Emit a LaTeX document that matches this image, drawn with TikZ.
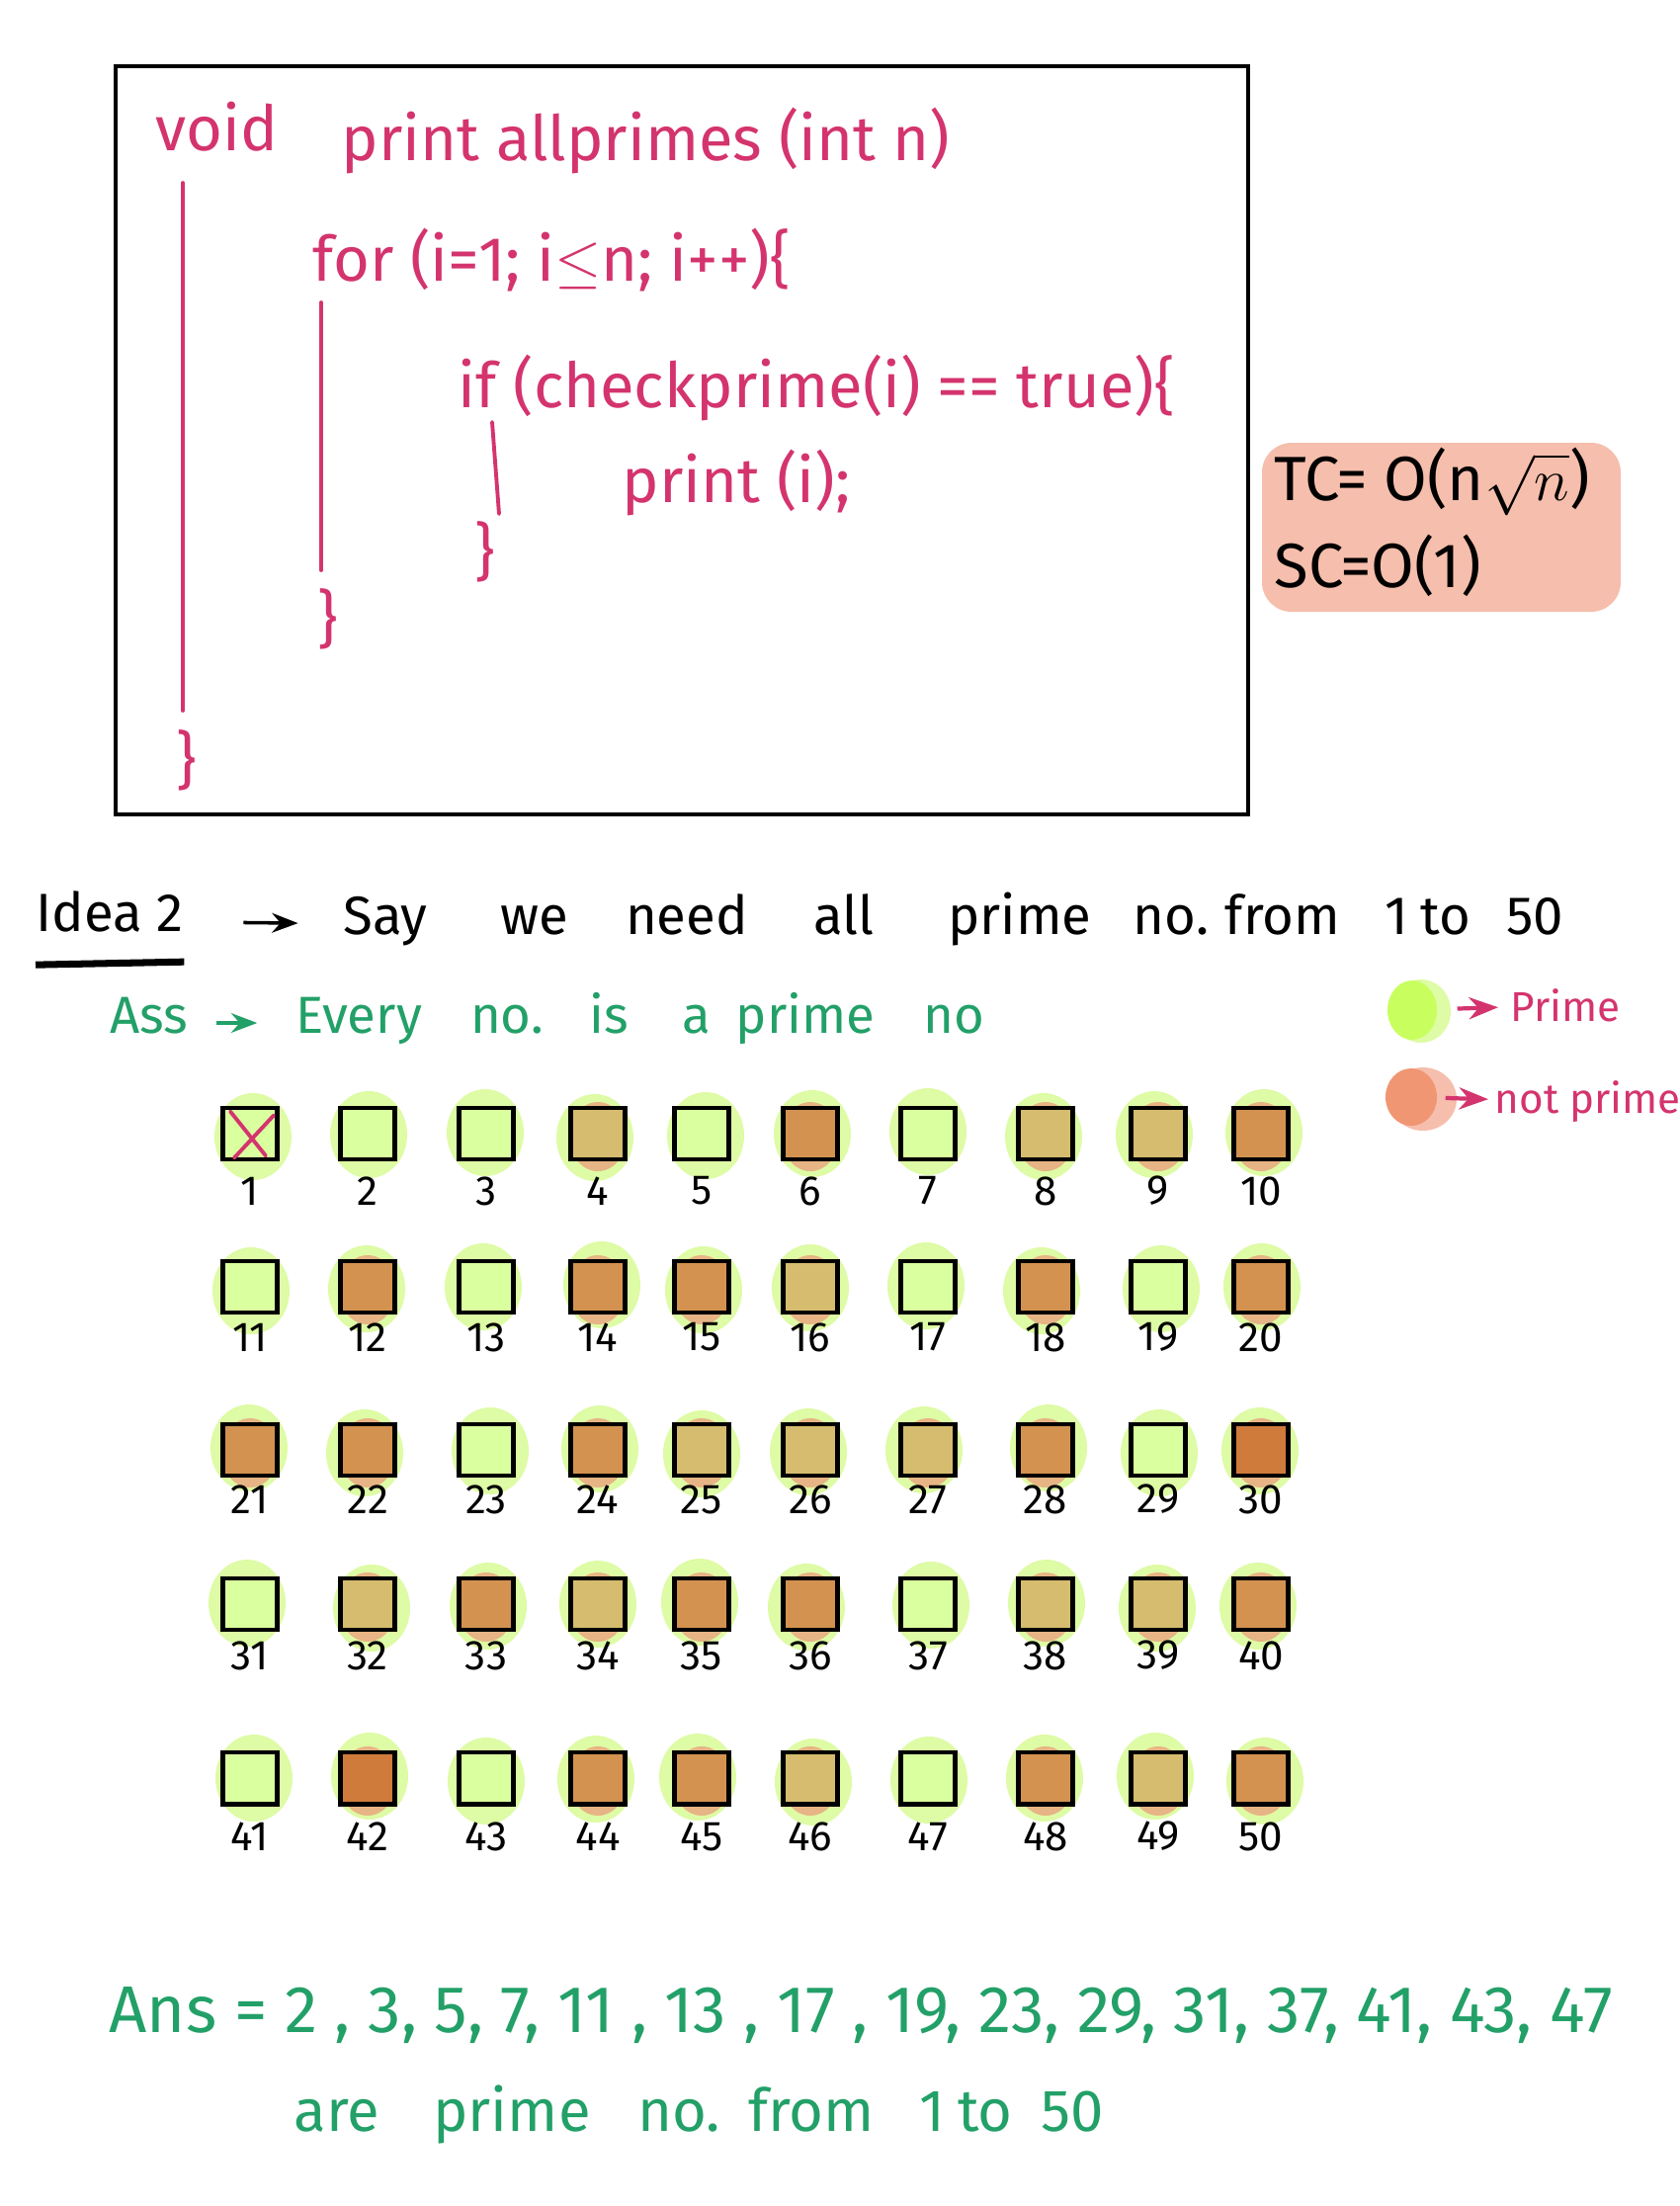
\documentclass[tikz,border=0pt]{standalone}
\usepackage{fontspec}
\setmainfont{Fira Sans}
\usetikzlibrary{calc,shapes.geometric,arrows.meta}

\definecolor{codepink}{RGB}{212,52,110}
\definecolor{assgreen}{RGB}{34,160,104}
\definecolor{tcfill}{RGB}{246,190,172}
\definecolor{haloG}{RGB}{222,251,165}
\definecolor{fillP}{RGB}{218,255,158}
\definecolor{fillT}{RGB}{213,188,110}
\definecolor{fillO}{RGB}{211,146,80}
\definecolor{fillD}{RGB}{207,123,60}
\definecolor{rimcol}{RGB}{236,150,120}
\definecolor{primeblob}{RGB}{200,255,95}
\definecolor{notprimeblob}{RGB}{240,150,115}

\tikzset{
  code/.style={text=codepink, inner sep=0pt, font=\fontsize{18}{21}\selectfont},
  codeline/.style={draw=codepink, line width=1.1pt, line cap=round},
  idea/.style={inner sep=0pt, text height=1.6ex, text depth=0.5ex, font=\fontsize{15.5}{18}\selectfont},
  ass/.style={text=assgreen, inner sep=0pt, text height=1.6ex, text depth=0.5ex, font=\fontsize{15}{18}\selectfont},
  ans/.style={text=assgreen, inner sep=0pt, text height=1.6ex, text depth=0.5ex, font=\fontsize{19}{22}\selectfont},
  cell/.style={draw, line width=1.4pt, minimum width=0.55cm, minimum height=0.52cm, inner sep=0pt},
  num/.style={inner sep=0pt, font=\fontsize{12}{14}\selectfont},
  legend/.style={text=codepink, inner sep=0pt, anchor=west, font=\fontsize{12}{14}\selectfont},
}

\begin{document}
\begin{tikzpicture}[x=0.01cm,y=-0.01cm]
  \useasboundingbox (0,0) rectangle (1700,2232);

  % code box
  \draw[line width=1.3pt] (117,67) rectangle (1263,824);
  \node[code, anchor=west] (void) at (157,128) {void};
  \node[code, anchor=west] (head) at (345,142) {print allprimes (int n)};
  \node[code, anchor=west] (for) at (316,263) {for (i=1; i$\leq$n; i++)\{};
  \node[code, anchor=west] (if) at (463,392) {if (checkprime(i) == true)\{};
  \node[code, anchor=west] (print) at (629,488) {print (i);};
  \node[code] (close3) at (491,558) {\}};
  \node[code] (close2) at (332,626) {\}};
  \node[code] (close1) at (189,769) {\}};
  \draw[codeline] (185,185) -- (185,719); % function body
  \draw[codeline] (325,306) -- (325,577); % loop body
  \draw[codeline] (498,427) -- (505,520); % if body

  % complexity
  \fill[tcfill, rounded corners=0.3cm] (1277,448) rectangle (1640,619);
  \node[idea, anchor=west, font=\fontsize{18}{21}\selectfont] (tc) at (1289,496) {TC= O(n$\sqrt{n}$)};
  \node[idea, anchor=west, font=\fontsize{18}{21}\selectfont] (sc) at (1289,584) {SC=O(1)};

  % idea line
  \node[idea, anchor=west] (idea) at (36,932) {Idea 2};
  \draw[line width=2pt] ($(idea.south west)+(0,24)$) -- ($(idea.south east)+(0,21)$); % underline
  \foreach \w/\x in {Say/390, we/541, need/695, all/854, prime/1032, no./1185, from/1298, 1/1413, to/1463, 50/1553}
    \node[idea] (w\x) at (\x,935) {\w};
  \draw[-{Stealth}, line width=1pt, shorten <=0.6cm, shorten >=0.45cm] (idea) -- (w390);

  % assumption
  \node[ass] (assume) at (151,1035) {Ass};
  \foreach \w/\x in {Every/363, no./513, is/616, a/705, prime/815, no/965}
    \node[ass] (a\x) at (\x,1035) {\w};
  \draw[-{Stealth}, draw=assgreen, line width=1pt, shorten <=0.28cm, shorten >=0.38cm] (assume) -- (a363);

  % legend
  \fill[haloG] (1438,1023) ellipse (30 and 32);
  \node[ellipse, fill=primeblob, minimum width=0.5cm, minimum height=0.6cm, inner sep=0pt] (pblob) at (1429,1022) {};
  \node[legend] (ptext) at (1528,1017) {Prime};
  \draw[-{Stealth}, draw=codepink, line width=1.2pt, shorten <=0.2cm, shorten >=0.12cm] (pblob) -- (ptext);
  \fill[tcfill] (1440,1112) ellipse (34 and 32);
  \node[ellipse, fill=notprimeblob, minimum width=0.52cm, minimum height=0.58cm, inner sep=0pt] (nblob) at (1428,1110) {};
  \node[legend] (ntext) at (1512,1115) {not prime};
  \draw[-{Stealth}, draw=codepink, line width=1.2pt, shorten <=0.08cm, shorten >=0.06cm] (nblob) -- (ntext);

  % number grid, P = prime, T/O/D = shades of not prime
  \foreach \n/\k in {1/P,2/P,3/P,4/T,5/P,6/O,7/P,8/T,9/T,10/O,
                     11/P,12/O,13/P,14/O,15/O,16/T,17/P,18/O,19/P,20/O,
                     21/O,22/O,23/P,24/O,25/T,26/T,27/T,28/O,29/P,30/D,
                     31/P,32/T,33/O,34/T,35/O,36/O,37/P,38/T,39/T,40/O,
                     41/P,42/D,43/P,44/O,45/O,46/T,47/P,48/O,49/T,50/O}{
    \pgfmathtruncatemacro\coli{mod(\n-1,10)}
    \pgfmathtruncatemacro\rowi{(\n-1)/10}
    \pgfmathsetmacro\cx{{253,372,492,605,710,820,939,1058,1172,1276}[\coli]}
    \pgfmathsetmacro\cy{{1147,1302,1467,1623,1799}[\rowi]}
    \pgfmathsetmacro\ly{{1205,1353,1517,1675,1858}[\rowi]}
    \pgfmathsetmacro\hx{\cx+mod(\n*7,9)-4}
    \pgfmathsetmacro\hy{\cy+mod(\n*5,7)-2}
    \fill[haloG] (\hx,\hy) ellipse (39 and 44);
    \if\k P\else
      \fill[rimcol, opacity=0.7] (\cx,\cy+3) ellipse (29 and 35);
    \fi
    \node[cell, fill=fill\k] (c\n) at (\cx,\cy) {};
    \node[num] (l\n) at (\cx,\ly) {\n};
  }
  \draw[codeline] ($(c1.north west)+(10,6)$) -- ($(c1.south east)+(-14,-6)$); % 1 is crossed out
  \draw[codeline] ($(c1.north east)+(-6,10)$) -- ($(c1.south west)+(14,-4)$);

  % answer
  \node[ans, anchor=west] (ans) at (110,2046) {Ans = 2 , 3, 5, 7, 11 , 13 , 17 , 19, 23, 29, 31, 37, 41, 43, 47};
  \foreach \w/\x in {are/341, prime/518, no./687, from/821, 1/943, to/997, 50/1085}
    \node[ans, font=\fontsize{17}{20}\selectfont] (b\x) at (\x,2146) {\w};
\end{tikzpicture}
\end{document}
